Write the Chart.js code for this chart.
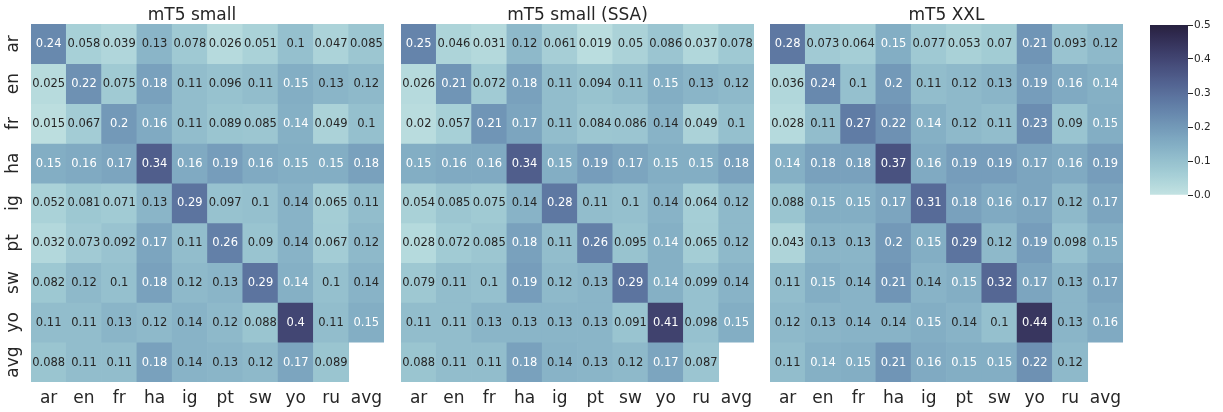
<!DOCTYPE html>
<html lang="en">

<head>
    <meta charset="UTF-8">
    <title>mT5 heatmaps</title>
    <script src="https://cdn.jsdelivr.net/npm/chart.js"></script>
    <style>
        body { margin: 0; background: #fff; }
        canvas { position: absolute; top: 0; }
    </style>
</head>

<body>
    <canvas id="mapSmall" width="390" height="412" style="left:0px"></canvas>
    <canvas id="mapSsa" width="365" height="412" style="left:395px"></canvas>
    <canvas id="mapXxl" width="365" height="412" style="left:764px"></canvas>
    <canvas id="colorBar" width="83" height="412" style="left:1140px"></canvas>
</body>

</html>
<script>
    const rows = ['ar', 'en', 'fr', 'ha', 'ig', 'pt', 'sw', 'yo', 'avg']
    const cols = ['ar', 'en', 'fr', 'ha', 'ig', 'pt', 'sw', 'yo', 'ru', 'avg']
    const titles = ['mT5 small', 'mT5 small (SSA)', 'mT5 XXL']
    const barTicks = [0, 0.1, 0.2, 0.3, 0.4, 0.5]

    // rows = train language, cols = eval language (last row has no avg/avg cell)
    const valuesSmall = [
        [0.24, 0.058, 0.039, 0.13, 0.078, 0.026, 0.051, 0.1, 0.047, 0.085],
        [0.025, 0.22, 0.075, 0.18, 0.11, 0.096, 0.11, 0.15, 0.13, 0.12],
        [0.015, 0.067, 0.2, 0.16, 0.11, 0.089, 0.085, 0.144, 0.049, 0.1],
        [0.15, 0.16, 0.17, 0.34, 0.16, 0.19, 0.16, 0.15, 0.15, 0.18],
        [0.052, 0.081, 0.071, 0.13, 0.29, 0.097, 0.1, 0.136, 0.065, 0.11],
        [0.032, 0.073, 0.092, 0.17, 0.11, 0.26, 0.09, 0.136, 0.067, 0.12],
        [0.082, 0.12, 0.1, 0.18, 0.12, 0.13, 0.29, 0.144, 0.1, 0.136],
        [0.11, 0.11, 0.13, 0.12, 0.136, 0.12, 0.088, 0.4, 0.11, 0.15],
        [0.088, 0.11, 0.11, 0.18, 0.136, 0.13, 0.12, 0.17, 0.089, null]
    ]
    const valuesSsa = [
        [0.25, 0.046, 0.031, 0.12, 0.061, 0.019, 0.05, 0.086, 0.037, 0.078],
        [0.026, 0.21, 0.072, 0.18, 0.11, 0.094, 0.11, 0.15, 0.13, 0.12],
        [0.02, 0.057, 0.21, 0.17, 0.11, 0.084, 0.086, 0.136, 0.049, 0.1],
        [0.15, 0.16, 0.16, 0.34, 0.15, 0.19, 0.17, 0.15, 0.15, 0.18],
        [0.054, 0.085, 0.075, 0.136, 0.28, 0.11, 0.1, 0.136, 0.064, 0.12],
        [0.028, 0.072, 0.085, 0.18, 0.11, 0.26, 0.095, 0.144, 0.065, 0.12],
        [0.079, 0.11, 0.1, 0.19, 0.12, 0.13, 0.29, 0.144, 0.099, 0.136],
        [0.11, 0.11, 0.13, 0.13, 0.13, 0.13, 0.091, 0.41, 0.098, 0.15],
        [0.088, 0.11, 0.11, 0.18, 0.136, 0.13, 0.12, 0.17, 0.087, null]
    ]
    const valuesXxl = [
        [0.28, 0.073, 0.064, 0.15, 0.077, 0.053, 0.07, 0.21, 0.093, 0.12],
        [0.036, 0.24, 0.1, 0.2, 0.11, 0.12, 0.13, 0.19, 0.16, 0.144],
        [0.028, 0.11, 0.27, 0.22, 0.144, 0.12, 0.11, 0.23, 0.09, 0.15],
        [0.144, 0.18, 0.18, 0.37, 0.16, 0.19, 0.19, 0.17, 0.16, 0.19],
        [0.088, 0.15, 0.15, 0.17, 0.31, 0.18, 0.16, 0.17, 0.12, 0.17],
        [0.043, 0.13, 0.13, 0.2, 0.15, 0.29, 0.12, 0.19, 0.098, 0.15],
        [0.11, 0.15, 0.136, 0.21, 0.136, 0.15, 0.32, 0.17, 0.13, 0.17],
        [0.12, 0.13, 0.136, 0.136, 0.15, 0.136, 0.1, 0.44, 0.13, 0.16],
        [0.11, 0.144, 0.15, 0.21, 0.16, 0.15, 0.15, 0.22, 0.12, null]
    ]

    const vmax = 0.5
    const textDark = '#262626'
    Chart.defaults.font.family = 'DejaVu Sans'
    Chart.defaults.color = textDark

    // seaborn "ch:start=.2,rot=-.3" as a 256 colour map
    function helix(t) {
        let i = Math.floor(t * 256)
        if (i < 0) i = 0
        if (i > 255) i = 255
        const x = 0.85 - 0.7 * i / 255
        const a = 0.8 * x * (1 - x) / 2
        const phi = 2 * Math.PI * (0.2 / 3 - 0.3 * x)
        const c = Math.cos(phi), s = Math.sin(phi)
        const rgb = [
            x + a * (-0.14861 * c + 1.78277 * s),
            x + a * (-0.29227 * c - 0.90649 * s),
            x + a * (1.97294 * c)
        ]
        return rgb.map(v => Math.min(1, Math.max(0, v)))
    }

    function toCss(rgb) {
        return `rgb(${rgb.map(v => Math.round(v * 255)).join(',')})`
    }

    function luminance(rgb) {
        const lin = rgb.map(v => v <= 0.03928 ? v / 12.92 : Math.pow((v + 0.055) / 1.055, 2.4))
        return 0.2126 * lin[0] + 0.7152 * lin[1] + 0.0722 * lin[2]
    }

    function fmt(v) {
        return String(Number(v.toPrecision(2)))
    }

    const cellLabels = {
        id: 'cellLabels',
        afterDatasetsDraw(chart) {
            const ctx = chart.ctx
            const grid = chart.options.plugins.cellLabels.values
            ctx.save()
            ctx.font = '11.5px "DejaVu Sans"'
            ctx.textAlign = 'center'
            ctx.textBaseline = 'middle'
            chart.data.datasets.forEach((ds, r) => {
                chart.getDatasetMeta(r).data.forEach((bar, c) => {
                    const v = grid[r][c]
                    if (v == null) return
                    const rgb = helix(v / vmax)
                    ctx.fillStyle = luminance(rgb) > 0.408 ? textDark : '#ffffff'
                    ctx.fillText(fmt(v), bar.x, (bar.y + bar.base) / 2 + 0.5)
                })
            })
            ctx.restore()
        }
    }

    function drawMap(id, title, values, showRows) {
        const datasets = rows.map((r, i) => ({
            label: r,
            data: values[i].map(v => v == null ? null : 1),
            backgroundColor: values[i].map(v => v == null ? 'rgba(0,0,0,0)' : toCss(helix(v / vmax))),
            borderWidth: 0,
            barPercentage: 1,
            categoryPercentage: 1
        }))

        new Chart(document.getElementById(id), {
            type: 'bar',
            data: { labels: cols, datasets: datasets },
            plugins: [cellLabels],
            options: {
                responsive: false,
                animation: false,
                layout: { padding: { left: showRows ? 0 : 6, right: 6, top: 0, bottom: 0 } },
                plugins: {
                    legend: { display: false },
                    tooltip: { enabled: false },
                    title: {
                        display: true,
                        text: title,
                        color: textDark,
                        font: { size: 17, weight: 'normal', lineHeight: 1 },
                        padding: { top: 7, bottom: 0 }
                    },
                    cellLabels: { values: values }
                },
                scales: {
                    x: {
                        stacked: true,
                        grid: { display: false, drawTicks: false },
                        border: { display: false },
                        ticks: { autoSkip: false, font: { size: 17 }, color: textDark, padding: 6, maxRotation: 0 },
                        afterFit: s => { s.height = 30 }
                    },
                    y: {
                        stacked: true,
                        display: showRows,
                        min: 0,
                        max: rows.length,
                        reverse: true,
                        grid: { display: false, drawTicks: false },
                        border: { display: false },
                        afterBuildTicks: s => { s.ticks = rows.map((r, i) => ({ value: i + 0.5 })) },
                        ticks: {
                            autoSkip: false,
                            font: { size: 17 },
                            color: textDark,
                            minRotation: 90,
                            maxRotation: 90,
                            crossAlign: 'center',
                            padding: 2,
                            callback: (v, i) => rows[i]
                        },
                        afterFit: s => { s.width = showRows ? 31 : 0 }
                    }
                }
            }
        })
    }

    drawMap('mapSmall', titles[0], valuesSmall, true)
    drawMap('mapSsa', titles[1], valuesSsa, false)
    drawMap('mapXxl', titles[2], valuesXxl, false)

    new Chart(document.getElementById('colorBar'), {
        type: 'bar',
        data: {
            labels: [''],
            datasets: [{
                data: [barTicks[barTicks.length - 1]],
                borderWidth: 0,
                barPercentage: 1,
                categoryPercentage: 1,
                backgroundColor: function (context) {
                    const area = context.chart.chartArea
                    if (!area) return null
                    const g = context.chart.ctx.createLinearGradient(0, area.bottom, 0, area.top)
                    for (let k = 0; k <= 64; k++) g.addColorStop(k / 64, toCss(helix(k / 64)))
                    return g
                }
            }]
        },
        options: {
            responsive: false,
            animation: false,
            layout: { padding: { left: 10, right: 0, top: 25, bottom: 217 } },
            plugins: { legend: { display: false }, tooltip: { enabled: false } },
            scales: {
                x: { display: false },
                y: {
                    position: 'right',
                    min: 0,
                    max: barTicks[barTicks.length - 1],
                    afterBuildTicks: s => { s.ticks = barTicks.map(v => ({ value: v })) },
                    grid: { drawOnChartArea: false, drawTicks: true, tickLength: 5, color: textDark, tickWidth: 1 },
                    border: { display: false },
                    ticks: { font: { size: 10.5 }, color: textDark, padding: 1, callback: v => v.toFixed(1) },
                    afterFit: s => { s.width = 35 }
                }
            }
        }
    })
</script>
